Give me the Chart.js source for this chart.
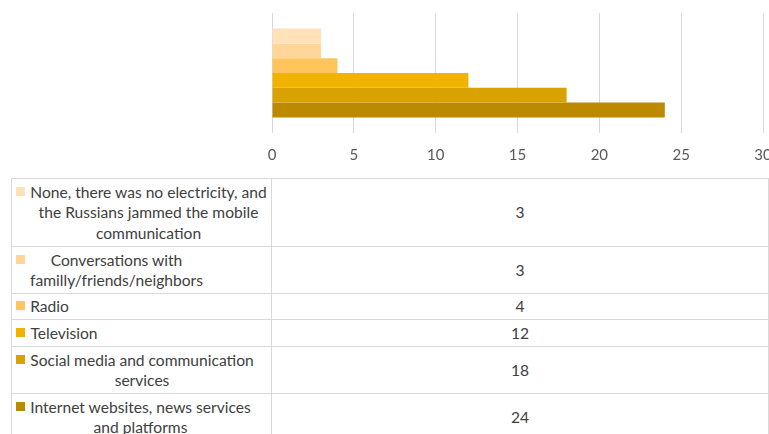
<!DOCTYPE html>
<html>
<head>
<meta charset="utf-8">
<script src="https://cdn.jsdelivr.net/npm/chart.js@4/dist/chart.umd.min.js"></script>
<style>
  body { margin: 0; width: 769px; height: 434px; overflow: hidden; background: #fff; position: relative; font-family: Lato, "Open Sans", sans-serif; }
  #chart-box { position: absolute; left: 0; top: 0; width: 790px; height: 177px; }
  #data-table { position: absolute; left: 11px; top: 178px; border-collapse: collapse; color: #404040; font-size: 15.6px; line-height: 20.5px; }
  #data-table td { border: 1px solid #d9d9d9; padding: 0; vertical-align: middle; }
  #data-table td.name { width: 260px; padding-left: 4px; box-sizing: border-box; }
  #data-table td.val { width: 499px; text-align: center; }
  .key { display: flex; align-items: flex-start; }
  .swatch { flex: none; width: 9px; height: 9px; margin-top: 5px; margin-right: 5px; }
  .txt { text-align: center; }
</style>
</head>
<body>
<div id="chart-box"><canvas id="media-chart"></canvas></div>
<table id="data-table"></table>
<script>
// answers (top bar first) and how many people picked each one
let sources = [
    'None, there was no electricity, and the Russians jammed the mobile communication',
    'Conversations with familly/friends/neighbors',
    'Radio',
    'Television',
    'Social media and communication services',
    'Internet websites, news services and platforms'
]
let counts = [3, 3, 4, 12, 18, 24]
let sourceColors = ['#ffe1ba', '#ffd598', '#fec55c', '#f0b400', '#d8a200', '#bb8a00']
let rowHeights = [68, 47, 26, 27, 47, 47]

let context = document.querySelector('#media-chart').getContext('2d')

// one dataset per answer so every bar gets its own colour in the single group
let datasets = sources.map(function(name, i) {
    return { label: name, data: [counts[i]], backgroundColor: sourceColors[i], borderWidth: 0 }
})

let chart = new Chart(context, {
    type: 'bar',
    data: { labels: [''], datasets: datasets },
    options: {
        indexAxis: 'y',
        responsive: true,
        maintainAspectRatio: false,
        animation: false,
        datasets: { bar: { categoryPercentage: 0.74, barPercentage: 1.0 } },
        layout: { padding: { left: 272, right: 27, top: 13, bottom: 0 } },
        plugins: { legend: { display: false }, tooltip: { enabled: false } },
        scales: {
            y: { display: false },
            x: {
                min: 0, max: 30,
                ticks: { stepSize: 5, color: '#595959', font: { family: 'Lato', size: 15 }, padding: 13 },
                grid: { color: '#d9d9d9', drawTicks: false },
                border: { display: false }
            }
        }
    }
})

// data table under the chart, with the legend keys
let table = document.querySelector('#data-table')
sources.forEach(function(name, i) {
    let row = table.insertRow()
    row.style.height = rowHeights[i] + 'px'
    let nameCell = row.insertCell()
    nameCell.className = 'name'
    nameCell.innerHTML = `<div class="key"><span class="swatch" style="background:${sourceColors[i]}"></span><span class="txt">${name}</span></div>`
    let valCell = row.insertCell()
    valCell.className = 'val'
    valCell.textContent = counts[i]
})

// shrink each wrapped label box to its longest line, like the office data table does
document.querySelectorAll('.txt').forEach(function(box) {
    let range = document.createRange()
    range.selectNodeContents(box)
    let widest = 0
    Array.from(range.getClientRects()).forEach(function(r) { widest = Math.max(widest, r.width) })
    box.style.width = Math.ceil(widest) + 'px'
})
</script>
</body>
</html>
